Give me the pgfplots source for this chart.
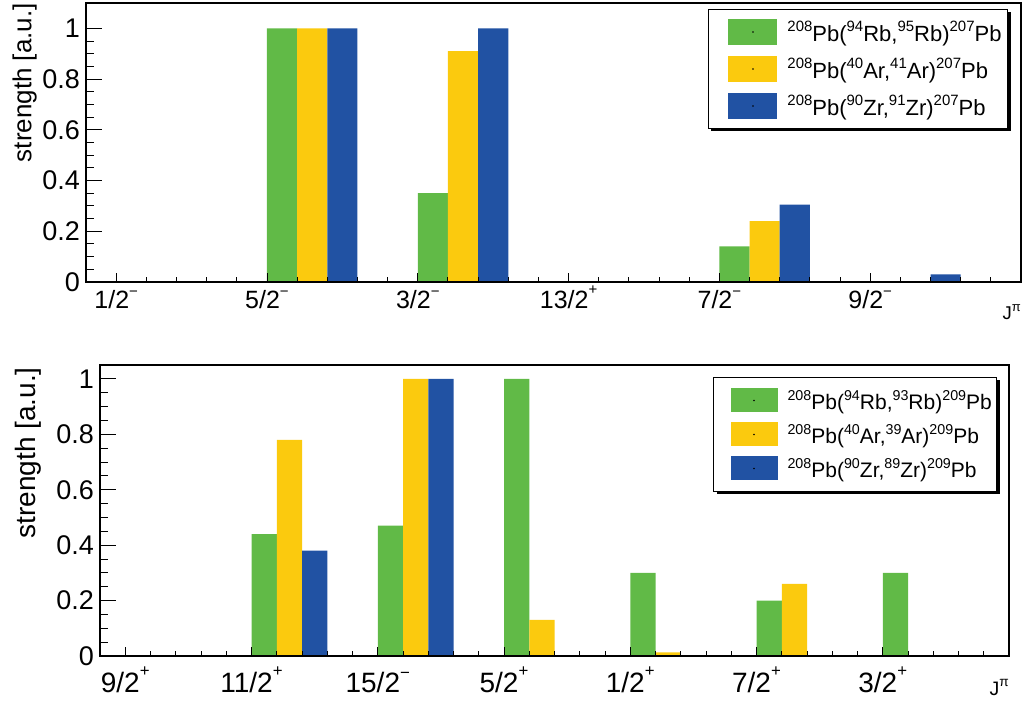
\documentclass[border=0pt]{standalone}
\usepackage{fontspec}
\setmainfont{Liberation Sans}
\usepackage{graphicx}
\usepackage{pgfplots}
\pgfplotsset{compat=1.18}
\usetikzlibrary{shadows}
\definecolor{cg}{RGB}{97,186,71}
\definecolor{cy}{RGB}{251,202,14}
\definecolor{cb}{RGB}{33,82,163}
\definecolor{cl}{RGB}{70,100,130}
\makeatletter
\tikzset{noshadow/.code={\let\tikz@preactions\pgfutil@empty}}
\makeatother
\newcommand\sps[1]{\raisebox{0.42em}{\scalebox{0.68}{#1}}}
\newcommand\spm{\raisebox{0.5em}{\scalebox{0.6}{−}}}
\newcommand\spp{\raisebox{0.55em}{\scalebox{0.6}{+}}}
\pgfplotsset{
  rootstyle/.style={
    scale only axis, ybar, bar width=1, bar shift=0pt,
    axis on top, tick pos=left, tick align=inside,
    axis line style={line width=1.2pt},
    every tick/.style={black, line width=0.9pt},
    ymin=0, ytick={0,0.2,0.4,0.6,0.8,1}, minor y tick num=3,
    ytick style={/pgfplots/major tick length=16pt,/pgfplots/minor tick length=8pt},
    xtick style={/pgfplots/major tick length=9pt,/pgfplots/minor tick length=5pt},
    xtick={0,5,...,30},
    /pgf/number format/assume math mode=true,
    yticklabel style={inner sep=0pt, xshift=-6pt, font=\fontsize{27}{30}\selectfont},
    legend cell align=left,
  },
}
\begin{document}
\begin{tikzpicture}
\useasboundingbox (0,0) rectangle (1025pt,715pt);
% ---------- top panel ----------
\begin{axis}[rootstyle,
  at={(86pt,433pt)}, anchor=south west, width=935pt, height=279pt,
  xmin=-1, xmax=30, ymax=1.1,
  minor xtick={-1,0,...,30},
  xticklabels={1/2\spm, 5/2\spm, 3/2\spm, 13/2\spp, 7/2\spm, 9/2\spm},
  xticklabel style={inner sep=0pt, text height=18.5pt, text depth=5pt, yshift=-8pt, font=\fontsize{25}{28}\selectfont},
  ylabel={strength [a.u.]},
  ylabel style={at={(axis description cs:-0.0524,1)}, anchor=south east, inner sep=0pt, font=\fontsize{26}{28}\selectfont},
  xlabel={J\raisebox{0.45em}{\scalebox{0.7}{π}}},
  xlabel style={at={(axis description cs:1.0,-0.08)}, anchor=north east, inner sep=0pt, font=\fontsize{18.5}{20}\selectfont},
  legend style={at={(axis description cs:0.6652,0.9785)}, anchor=north west,
    draw=black, line width=1pt, fill=white, inner xsep=6pt, inner ysep=4pt,
    row sep=0pt, column sep=10pt, font=\fontsize{22}{24}\selectfont,
    nodes={inner sep=0pt, minimum height=37pt},
    drop shadow={shadow xshift=3pt, shadow yshift=-3pt, fill=black, opacity=1}},
  legend image code/.code={\fill[#1,noshadow] (0pt,-13pt) rectangle (49pt,13pt); \fill[black,noshadow] (24.5pt,0pt) circle (0.8pt); \path (-14pt,0pt);},
]
\addplot[fill=cg, draw=none] coordinates {(5.5,1.0) (10.5,0.35) (20.5,0.14)};
\addlegendentry{\sps{208}Pb(\sps{94}Rb,\sps{95}Rb)\sps{207}Pb}
\addplot[fill=cy, draw=none] coordinates {(6.5,1.0) (11.5,0.91) (21.5,0.24)};
\addlegendentry{\sps{208}Pb(\sps{40}Ar,\sps{41}Ar)\sps{207}Pb}
\addplot[fill=cb, draw=none] coordinates {(7.5,1.0) (12.5,1.0) (22.5,0.305) (27.5,0.03)};
\addlegendentry{\sps{208}Pb(\sps{90}Zr,\sps{91}Zr)\sps{207}Pb}
\addplot[sharp plot, draw=cl, line width=1pt, forget plot] coordinates {(-1,0) (30,0)};
\end{axis}
% ---------- bottom panel ----------
\begin{axis}[rootstyle,
  at={(100pt,59pt)}, anchor=south west, width=909pt, height=291pt,
  xmin=-1, xmax=35, ymax=1.05,
  minor xtick={-1,0,...,35},
  xticklabels={9/2\spp, 11/2\spp, 15/2\spm, 5/2\spp, 1/2\spp, 7/2\spp, 3/2\spp},
  xticklabel style={inner sep=0pt, text height=20.5pt, text depth=5.5pt, yshift=-15.5pt, font=\fontsize{28}{30}\selectfont},
  ylabel={strength [a.u.]},
  ylabel style={at={(axis description cs:-0.0638,0.993)}, anchor=south east, inner sep=0pt, font=\fontsize{28}{30}\selectfont},
  xlabel={J\raisebox{0.45em}{\scalebox{0.7}{π}}},
  xlabel style={at={(axis description cs:1,-0.08)}, anchor=north east, inner sep=0pt, font=\fontsize{19.5}{21}\selectfont},
  legend style={at={(axis description cs:0.6744,0.9588)}, anchor=north west,
    draw=black, line width=1pt, fill=white, inner xsep=5pt, inner ysep=6pt,
    row sep=0pt, column sep=10pt, font=\fontsize{21}{24}\selectfont,
    nodes={inner sep=0pt, minimum height=34pt},
    drop shadow={shadow xshift=3pt, shadow yshift=-3pt, fill=black, opacity=1}},
  legend image code/.code={\fill[#1,noshadow] (0pt,-12pt) rectangle (47pt,12pt); \fill[black,noshadow] (23.5pt,0pt) circle (0.8pt); \path (-12pt,0pt);},
]
\addplot[fill=cg, draw=none] coordinates {(5.5,0.44) (10.5,0.47) (15.5,1.0) (20.5,0.30) (25.5,0.20) (30.5,0.30)};
\addlegendentry{\sps{208}Pb(\sps{94}Rb,\sps{93}Rb)\sps{209}Pb}
\addplot[fill=cy, draw=none] coordinates {(6.5,0.78) (11.5,1.0) (16.5,0.13) (21.5,0.013) (26.5,0.26)};
\addlegendentry{\sps{208}Pb(\sps{40}Ar,\sps{39}Ar)\sps{209}Pb}
\addplot[fill=cb, draw=none] coordinates {(7.5,0.38) (12.5,1.0)};
\addlegendentry{\sps{208}Pb(\sps{90}Zr,\sps{89}Zr)\sps{209}Pb}
\addplot[sharp plot, draw=cl, line width=1pt, forget plot] coordinates {(-1,0) (35,0)};
\end{axis}
\end{tikzpicture}
\end{document}
